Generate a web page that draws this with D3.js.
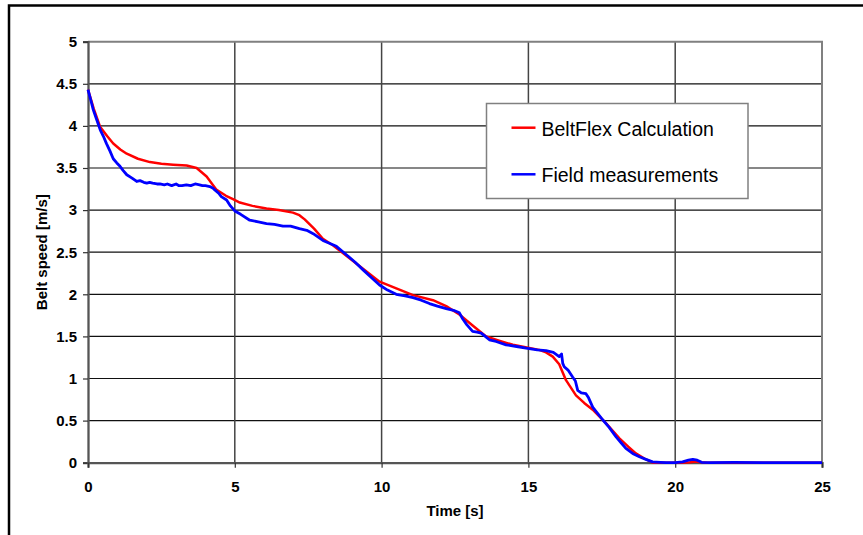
<!doctype html>
<html>
<head>
<meta charset="utf-8">
<script src="https://cdn.jsdelivr.net/npm/d3@7"></script>
<style>
  body { margin: 0; background: #fff; }
  svg { display: block; font-family: "Liberation Sans", Arial, sans-serif; }
</style>
</head>
<body>
<svg width="863" height="535"></svg>
<script>
// BeltFlex calculation (red)
const calcTime = [0, 0.2, 0.41, 0.65, 0.86, 1.1, 1.32, 1.7, 2.11, 2.5, 2.9, 3.36, 3.7, 4.04, 4.38, 4.7, 4.94, 5.17, 5.6, 6.08, 6.5, 6.98, 7.2, 7.38, 7.7, 8.0, 8.35, 8.68, 9.3, 9.93, 10.5, 11.07, 11.75, 12.2, 12.65, 13.1, 13.56, 14.0, 14.47, 14.9, 15.37, 15.6, 15.83, 16.05, 16.28, 16.62, 16.9, 17.19, 17.64, 18.1, 18.4, 18.66, 18.95, 19.23, 20.2, 20.5, 20.7, 20.9, 21.1, 25];
const calcSpeed = [4.43, 4.2, 3.99, 3.88, 3.79, 3.72, 3.67, 3.61, 3.57, 3.55, 3.54, 3.53, 3.50, 3.40, 3.24, 3.17, 3.13, 3.09, 3.05, 3.02, 3.00, 2.97, 2.94, 2.89, 2.78, 2.66, 2.58, 2.49, 2.32, 2.15, 2.07, 1.99, 1.93, 1.86, 1.76, 1.63, 1.50, 1.45, 1.40, 1.37, 1.34, 1.31, 1.26, 1.17, 0.98, 0.80, 0.71, 0.63, 0.47, 0.29, 0.19, 0.11, 0.05, 0.0, 0.0, 0.005, 0.015, 0.005, 0, 0];

// field measurements (blue)
const fieldTime = [0, 0.1, 0.18, 0.3, 0.42, 0.52, 0.63, 0.75, 0.86, 0.98, 1.09, 1.2, 1.32, 1.5, 1.66, 1.77, 1.9, 2.0, 2.1, 2.2, 2.35, 2.45, 2.6, 2.7, 2.85, 3.0, 3.1, 3.2, 3.35, 3.5, 3.65, 3.8, 3.9, 4.0, 4.15, 4.26, 4.32, 4.45, 4.54, 4.72, 4.85, 5.0, 5.2, 5.51, 5.8, 6.08, 6.35, 6.64, 6.9, 7.2, 7.45, 7.67, 8.0, 8.2, 8.46, 8.8, 9.1, 9.37, 9.65, 9.93, 10.2, 10.5, 10.8, 11.07, 11.35, 11.63, 11.9, 12.2, 12.45, 12.59, 12.65, 12.76, 12.9, 13.1, 13.25, 13.39, 13.5, 13.67, 13.9, 14.24, 14.6, 14.92, 15.3, 15.6, 15.85, 16.05, 16.1, 16.13, 16.17, 16.22, 16.35, 16.5, 16.6, 16.68, 16.8, 16.96, 17.05, 17.19, 17.35, 17.53, 17.75, 17.98, 18.15, 18.32, 18.55, 18.78, 19.0, 19.23, 19.5, 19.7, 20.0, 20.25, 20.45, 20.6, 20.75, 20.9, 21.2, 22, 23, 24, 25];
const fieldSpeed = [4.43, 4.30, 4.19, 4.07, 3.95, 3.88, 3.79, 3.70, 3.61, 3.56, 3.52, 3.47, 3.42, 3.38, 3.34, 3.35, 3.33, 3.32, 3.33, 3.32, 3.31, 3.31, 3.30, 3.31, 3.29, 3.31, 3.29, 3.29, 3.30, 3.29, 3.31, 3.30, 3.29, 3.29, 3.28, 3.26, 3.24, 3.20, 3.16, 3.12, 3.05, 2.99, 2.95, 2.88, 2.86, 2.84, 2.83, 2.81, 2.81, 2.78, 2.76, 2.72, 2.64, 2.61, 2.57, 2.47, 2.38, 2.29, 2.20, 2.11, 2.05, 2.00, 1.98, 1.96, 1.93, 1.89, 1.86, 1.83, 1.81, 1.79, 1.78, 1.71, 1.64, 1.56, 1.55, 1.54, 1.51, 1.46, 1.44, 1.40, 1.38, 1.36, 1.34, 1.33, 1.31, 1.26, 1.28, 1.29, 1.18, 1.14, 1.10, 1.02, 0.97, 0.86, 0.83, 0.82, 0.77, 0.66, 0.59, 0.51, 0.42, 0.31, 0.24, 0.17, 0.11, 0.07, 0.04, 0.01, 0.005, 0, 0, 0.01, 0.03, 0.04, 0.03, 0.005, 0, 0.003, 0, 0.002, 0];

const xTicks = [0, 5, 10, 15, 20, 25];
const yTicks = [0, 0.5, 1, 1.5, 2, 2.5, 3, 3.5, 4, 4.5, 5];
const seriesNames = ["BeltFlex Calculation", "Field measurements"];
const seriesColors = ["#ff0000", "#0000ff"];

const svg = d3.select("svg");
const x = d3.scaleLinear().domain([0, 25]).range([88, 822]);
const y = d3.scaleLinear().domain([0, 5]).range([462.7, 41.7]);

// outer frame (runs off the right and bottom edges)
svg.append("rect")
  .attr("x", 9).attr("y", 5.5).attr("width", 900).attr("height", 600)
  .attr("fill", "none").attr("stroke", "#000").attr("stroke-width", 2.5);

// gridlines
svg.append("g").selectAll("line").data(yTicks.slice(1, -1)).enter().append("line")
  .attr("x1", x(0)).attr("x2", x(25))
  .attr("y1", d => y(d)).attr("y2", d => y(d))
  .attr("stroke", "#111").attr("stroke-width", 1.2);
svg.append("g").selectAll("line").data(xTicks.slice(1, -1)).enter().append("line")
  .attr("x1", d => x(d)).attr("x2", d => x(d))
  .attr("y1", y(0)).attr("y2", y(5))
  .attr("stroke", "#444").attr("stroke-width", 1.5);

// plot border top / right
svg.append("path")
  .attr("d", `M${x(0)},${y(5)}H${x(25)}V${y(0)}`)
  .attr("fill", "none").attr("stroke", "#808080").attr("stroke-width", 2);

// axes
const yAxis = svg.append("g")
  .attr("transform", `translate(${x(0)},0)`)
  .call(d3.axisLeft(y).tickValues(yTicks).tickSize(5).tickPadding(6).tickFormat(d3.format("~g")));
const xAxis = svg.append("g")
  .attr("transform", `translate(0,${y(0)})`)
  .call(d3.axisBottom(x).tickValues(xTicks).tickSize(5).tickPadding(14).tickFormat(d3.format("d")));
[yAxis, xAxis].forEach(a => {
  a.select(".domain").attr("stroke", "#555").attr("stroke-width", 2.3);
  a.selectAll(".tick line").attr("stroke", "#333").attr("stroke-width", 1.2);
  a.selectAll(".tick text")
    .attr("font-family", "Liberation Sans, Arial, sans-serif")
    .attr("font-weight", "bold").attr("font-size", 15).attr("fill", "#000");
});

// series
const line = d3.line().x(d => x(d[0])).y(d => y(d[1]));
svg.append("path")
  .datum(d3.zip(calcTime, calcSpeed))
  .attr("d", line).attr("fill", "none")
  .attr("stroke", seriesColors[0]).attr("stroke-width", 2.5).attr("stroke-linejoin", "round");
svg.append("path")
  .datum(d3.zip(fieldTime, fieldSpeed))
  .attr("d", line).attr("fill", "none")
  .attr("stroke", seriesColors[1]).attr("stroke-width", 2.8).attr("stroke-linejoin", "round");

// axis titles
svg.append("text")
  .attr("x", (x(0) + x(25)) / 2).attr("y", 516)
  .attr("text-anchor", "middle").attr("font-weight", "bold").attr("font-size", 15)
  .text("Time [s]");
svg.append("text")
  .attr("transform", `translate(47,${(y(0) + y(5)) / 2}) rotate(-90)`)
  .attr("text-anchor", "middle").attr("font-weight", "bold").attr("font-size", 15)
  .text("Belt speed [m/s]");

// legend
const legend = svg.append("g");
legend.append("rect")
  .attr("x", 486.5).attr("y", 103.5).attr("width", 261.5).attr("height", 95)
  .attr("fill", "#fff").attr("stroke", "#808080").attr("stroke-width", 1.5);
const items = legend.selectAll("g.item").data(seriesNames).enter().append("g")
  .attr("transform", (d, i) => `translate(0,${i * 46.6})`);
items.append("line")
  .attr("x1", 511.5).attr("x2", 535.5).attr("y1", 127.7).attr("y2", 127.7)
  .attr("stroke", (d, i) => seriesColors[i]).attr("stroke-width", 2.5);
items.append("text")
  .attr("x", 541.5).attr("y", 135.5).attr("font-size", 19.5).attr("fill", "#000")
  .text(d => d);
</script>
</body>
</html>
